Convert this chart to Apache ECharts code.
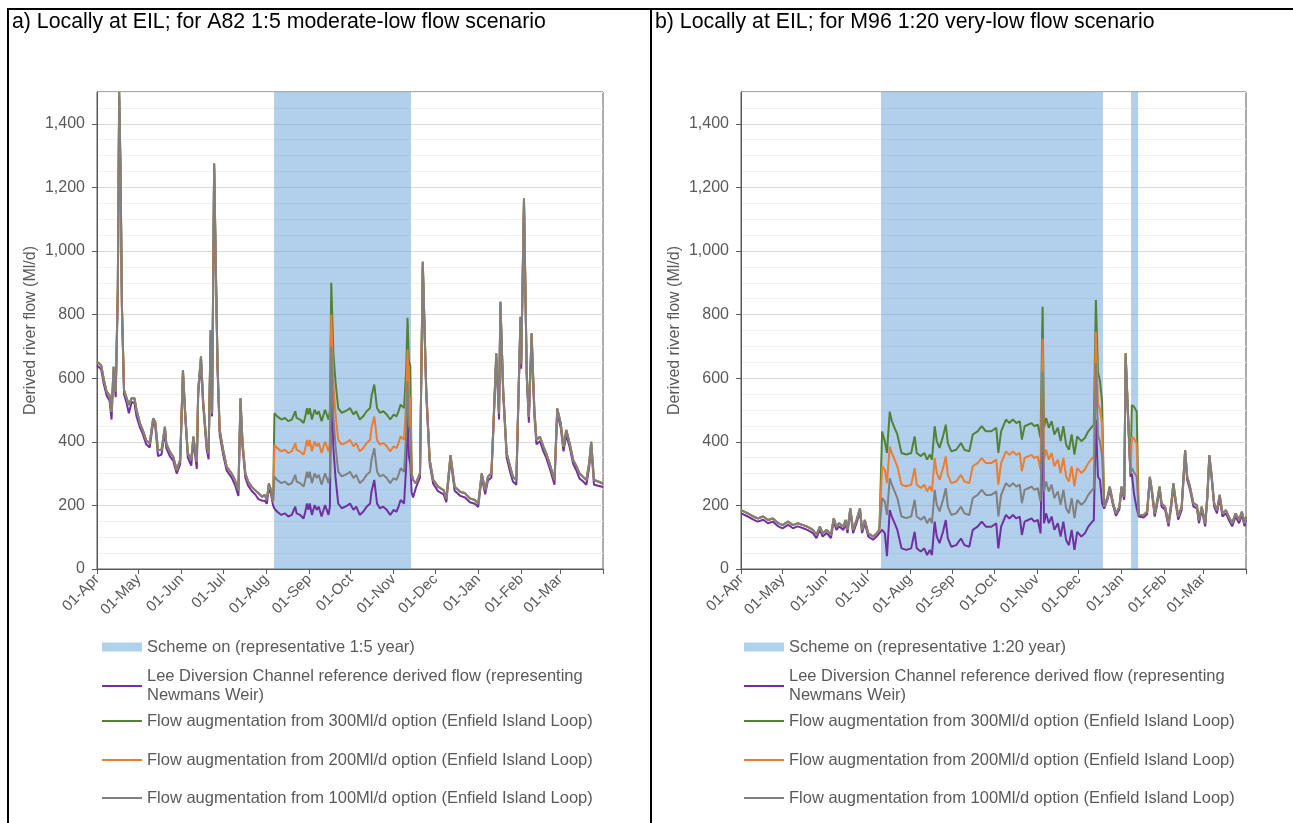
<!DOCTYPE html>
<html><head><meta charset="utf-8">
<script src="https://cdn.jsdelivr.net/npm/echarts@6/dist/echarts.min.js"></script>
<style>html,body{margin:0;padding:0;background:#fff}#c{width:1293px;height:823px}</style>
</head><body><div id="c"></div>
<script>
// ---------- axis labels ----------
const monthStarts = [0,30,61,91,122,153,183,214,244,275,306,334,365];
const monthLabels = ['01-Apr','01-May','01-Jun','01-Jul','01-Aug','01-Sep','01-Oct','01-Nov','01-Dec','01-Jan','01-Feb','01-Mar',''];
const yTickValues = [0,200,400,600,800,1000,1200,1400];

// ---------- scheme-on periods (day of water year) ----------
const schemeA = [[127.7,226.5]];
const schemeB = [[101.2,261.6],[281.9,287]];

// ---------- Panel a : A82 1:5 ----------
const aPreDays = [0,3,5,7,9,10.5,12,13.5,15,16,17,18,19.5,21,23,25,27,28.5,31,33,35.5,38,40.5,42,44,46.5,49,50,52.5,55,57.5,60,62,63.5,65.5,68,69.5,72,73,75,76.5,79,80.5,82,83,84.5,86,87,88.5,91,93.5,97,99.5,102,103.5,105,107,109,111.5,114,116.5,119,121,122.5,124,125.5,127];
const aPreRef = [640,628,580,545,530,470,620,540,860,1480,1230,810,550,528,490,525,522,480,445,425,392,382,460,450,355,360,432,380,355,340,300,330,610,488,350,325,402,315,548,650,518,380,345,735,480,1260,860,620,422,360,310,288,265,230,520,380,288,262,246,235,220,215,215,205,255,235,200];
const aPreOpt = [652,641,594,557,547,495,636,557,877,1500,1250,825,563,542,516,537,537,500,458,437,405,395,474,463,374,374,447,395,369,353,311,343,626,500,364,343,416,337,563,668,532,395,364,751,490,1275,877,636,437,374,322,301,280,248,537,395,301,275,259,248,238,227,233,217,269,248,212];

const aBandDays = [128,130,133,135.5,138,140.5,143,144,146.5,149,150,151.5,152.5,153.5,155,157,158.5,160,162,164.5,167,168,169,170.5,172,174,176.5,179,181,182.5,185,187,189.5,192,194.5,197,198,200,202,204,206.5,209,211.5,214,216,217.5,219,221.5,223,224,225,226];
const aBandRef = [190,180,170,175,165,170,196,175,170,159,175,206,186,206,170,201,186,196,165,201,170,196,600,380,290,206,191,196,201,206,186,196,170,180,196,206,243,280,206,191,196,186,170,186,180,196,217,206,322,490,353,330];
const aBand100 = [290,280,270,275,265,270,296,275,270,259,275,306,286,306,270,301,286,296,265,301,270,296,700,480,390,306,291,296,301,306,286,296,270,280,296,306,343,380,306,291,296,286,270,286,280,296,317,306,422,590,453,430];
const aBand200 = [390,380,370,375,365,370,396,375,370,359,375,406,386,406,370,401,386,396,365,401,370,396,800,580,490,406,391,396,401,406,386,396,370,380,396,406,443,480,406,391,396,386,370,386,380,396,417,406,522,690,553,530];
const aBand300 = [490,480,470,475,465,470,496,475,470,459,475,506,486,506,470,501,486,496,465,501,470,496,900,680,590,506,491,496,501,506,486,496,470,480,496,506,543,580,506,491,496,486,470,486,480,496,517,506,622,790,653,640];

const aPostDays = [227,228,230,233,235,237.5,240,242.5,246,250,252,255,258,262,265.5,269,272.5,275,277.5,280,282,284.5,286,288,290,291,293,295.5,298,300,302.5,304,305.5,306,308,310,311.5,313.5,315.5,317,319.5,322,324,326.5,330,332,334.5,336.5,338.5,341,343.5,346,348,350.5,353,355,356.5,358.5,361.5,365];
const aPostRef = [240,225,255,288,950,548,330,268,245,235,210,345,246,230,225,210,205,195,288,235,278,288,445,665,470,825,550,350,305,275,265,530,780,630,1150,600,460,725,480,392,402,370,350,318,265,490,445,370,422,382,330,308,285,276,265,318,385,265,262,258];
const aPostOpt = [300,280,269,301,966,563,343,280,259,248,222,358,259,243,238,222,217,206,301,248,290,301,458,678,490,840,563,364,322,290,280,542,793,647,1165,615,479,741,500,406,416,385,364,332,280,505,458,385,437,395,343,322,301,290,280,332,400,280,275,269];

// ---------- Panel b : M96 1:20 ----------
const bPreDays = [0,5,9,12,16,19.5,23,27,30,34,37.5,41,45,48,52,54.5,57,59,62,65,67,69,71,74,75.5,77,79,81,83.5,86,87.5,89.5,92,95.5,98,100];
const bPreRef = [175,165,155,149,155,144,149,134,128,139,128,134,128,123,113,97,123,102,113,97,149,123,134,123,144,113,181,113,144,181,113,144,102,92,102,113];
const bPreOpt = [185,175,165,159,165,154,159,144,138,149,138,144,138,133,123,107,133,112,123,107,159,133,144,133,154,123,191,123,154,191,123,154,112,102,112,123];

const bBand1Days = [102,104,105.5,107.5,109,111,113,116,119.5,123,125.5,127,130,132.5,134.5,136.5,138,140,141.5,143.5,146,148,149.5,152,155.5,159,161.5,165,167.5,171,174,177,181,182,184.5,186,188,191.5,194,196.5,199,201.5,203,205,207.5,210,212,214.5,216.5,218,219,220.5,222.5,224.5,226.5,229,231,233,235,237,239,241,243,246,248.5,251,253,255,256.5,258,259.5,261];
const bBand1Ref = [123,112,40,185,165,144,123,65,60,65,117,65,55,65,44,60,44,149,102,81,117,154,96,70,75,96,75,70,123,133,149,133,133,128,144,65,133,170,159,170,159,165,107,149,154,159,149,154,112,520,144,175,144,165,123,144,102,149,91,75,123,60,117,102,112,133,144,154,470,290,280,206];
const bBand1_100 = [223,212,170,285,265,244,223,165,160,165,217,165,155,165,144,160,144,249,202,181,217,254,196,170,175,196,175,170,223,233,249,233,233,228,244,165,233,270,259,270,259,265,207,249,254,259,249,254,212,620,244,275,244,265,223,244,202,249,191,175,223,160,217,202,212,233,244,254,647,420,400,353];
const bBand1_200 = [323,312,270,385,365,344,323,265,260,265,317,265,255,265,244,260,244,349,302,281,317,354,296,270,275,296,275,270,323,333,349,333,333,328,344,265,333,370,359,370,359,365,307,349,354,359,349,354,312,725,344,375,344,365,323,344,302,349,291,275,323,260,317,302,312,333,344,354,746,520,500,458];
const bBand1_300 = [432,400,365,495,465,444,423,365,360,365,417,365,355,365,344,360,344,449,402,381,417,454,396,370,375,396,375,370,423,433,449,433,433,428,444,365,433,470,459,470,459,465,407,449,454,459,449,454,412,825,444,475,444,465,423,444,402,449,391,375,423,360,417,402,412,433,444,454,846,620,590,525];

const bMidDays = [262.5,265,266.5,269,271,273.5,275,277,278,280,281.5];
const bMidRef = [190,220,250,198,167,188,250,218,665,445,290];
const bMidOpt = [196,227,259,206,175,196,259,227,678,458,301];

const bBand2Days = [282.5,284,286];
const bBand2Ref = [300,238,190];
const bBand2_100 = [317,305,290];
const bBand2_200 = [416,410,395];
const bBand2_300 = [516,510,495];

const bPostDays = [287.5,288.5,291,293.5,295.5,297,299,300.5,302.5,304,306.5,309,311,312.5,314.5,316,318.5,321,322.5,324.5,327,329.5,331,333,335.5,337,338.5,340,342,344,346,348,350.5,352.5,355,357.5,360,362,364,365];
const bPostRef = [165,168,162,172,280,238,165,196,250,196,186,134,196,259,196,155,186,362,280,249,196,191,144,186,134,217,346,291,196,175,223,165,175,155,134,165,144,170,134,155];
const bPostOpt = [170,175,170,180,290,248,175,206,259,206,196,144,206,269,206,165,196,374,290,259,206,201,154,196,144,227,358,301,206,185,233,175,185,165,144,175,154,180,144,165];

// ---------- assemble ----------
const daysA = [...aPreDays, ...aBandDays, ...aPostDays];
const refA = [...aPreRef, ...aBandRef, ...aPostRef];
const opt100A = [...aPreOpt, ...aBand100, ...aPostOpt];
const opt200A = [...aPreOpt, ...aBand200, ...aPostOpt];
const opt300A = [...aPreOpt, ...aBand300, ...aPostOpt];

const daysB = [...bPreDays, ...bBand1Days, ...bMidDays, ...bBand2Days, ...bPostDays];
const refB = [...bPreRef, ...bBand1Ref, ...bMidRef, ...bBand2Ref, ...bPostRef];
const opt100B = [...bPreOpt, ...bBand1_100, ...bMidOpt, ...bBand2_100, ...bPostOpt];
const opt200B = [...bPreOpt, ...bBand1_200, ...bMidOpt, ...bBand2_200, ...bPostOpt];
const opt300B = [...bPreOpt, ...bBand1_300, ...bMidOpt, ...bBand2_300, ...bPostOpt];

// ---------- names ----------
const titleA = 'a) Locally at EIL; for A82 1:5 moderate-low flow scenario';
const titleB = 'b) Locally at EIL; for M96 1:20 very-low flow scenario';
const nameSchemeA = 'Scheme on (representative 1:5 year)';
const nameSchemeB = 'Scheme on (representative 1:20 year)';
const nameRef = 'Lee Diversion Channel reference derived flow (representing Newmans Weir)';
const name300 = 'Flow augmentation from 300Ml/d option (Enfield Island Loop)';
const name200 = 'Flow augmentation from 200Ml/d option (Enfield Island Loop)';
const name100 = 'Flow augmentation from 100Ml/d option (Enfield Island Loop)';

const FONT = "'Liberation Sans', Arial, sans-serif";
const GREY = '#595959';
const C_REF = '#7030A0', C_300 = '#548235', C_200 = '#ED7D31', C_100 = '#808080';
const C_BAND = '#AED2EC';

function zip(d, v) { return d.map((x, i) => [x, v[i]]); }

function xAxisCfg(i) {
  return {
    type: 'value', gridIndex: i, min: 0, max: 365,
    axisLine: { show: true, lineStyle: { color: GREY, width: 1 } },
    axisTick: { show: true, customValues: monthStarts, length: 5, lineStyle: { color: GREY } },
    axisLabel: {
      customValues: monthStarts.slice(0, 12),
      formatter: v => monthLabels[monthStarts.indexOf(v)],
      rotate: 45, fontSize: 15, color: GREY, fontFamily: FONT, margin: 8
    },
    splitLine: { show: false }
  };
}
function yAxisCfg(i) {
  return {
    type: 'value', gridIndex: i, min: 0, max: 1500, interval: 50, position: 'left',
    name: 'Derived river flow (Ml/d)', nameLocation: 'middle', nameGap: 58,
    nameTextStyle: { fontSize: 16, color: GREY, fontFamily: FONT },
    axisLine: { show: true, lineStyle: { color: GREY, width: 1 } },
    axisTick: { show: true, customValues: yTickValues, length: 5, lineStyle: { color: GREY } },
    axisLabel: {
      customValues: yTickValues,
      formatter: v => v.toLocaleString('en-US'),
      fontSize: 16, color: GREY, fontFamily: FONT, margin: 12
    },
    splitLine: { show: false },
    z: 3
  };
}
// invisible axis that only draws the 50 Ml/d gridlines (major every 200)
function gridAxisCfg(i) {
  return {
    type: 'value', gridIndex: i, min: 0, max: 1500, interval: 50, position: 'right',
    axisLine: { show: false }, axisTick: { show: false }, axisLabel: { show: false },
    splitLine: { show: true, lineStyle: { color: ['#d9d9d9', '#f0f0f0', '#f0f0f0', '#f0f0f0'], width: 1 } }
  };
}
function line(name, color, days, vals, gi) {
  return {
    type: 'line', name, xAxisIndex: gi, yAxisIndex: gi, data: zip(days, vals),
    symbol: 'none', showSymbol: false, color, lineStyle: { width: 2, color }, itemStyle: { color },
    animation: false, emphasis: { disabled: true }
  };
}
function bandSeries(name, periods, gi) {
  return {
    type: 'line', name, xAxisIndex: gi, yAxisIndex: gi, data: [], color: C_BAND,
    symbol: 'none', animation: false,
    markArea: {
      silent: true, itemStyle: { color: 'rgba(91,155,213,0.47)' }, label: { show: false },
      data: periods.map(p => [{ xAxis: p[0] }, { xAxis: p[1] }])
    }
  };
}
function legendCfg(name, color, left, top, iconH, opts) {
  opts = opts || {};
  const ts = Object.assign({ fontSize: 16.5, color: GREY, fontFamily: FONT, lineHeight: 19 }, opts.text || {});
  const cfg = {
    data: [{ name, icon: 'rect', itemStyle: { color, borderWidth: 0 } }],
    left, top, orient: 'horizontal', itemWidth: 40, itemHeight: iconH,
    padding: 0, itemGap: 0, selectedMode: false, textStyle: ts
  };
  if (opts.formatter) cfg.formatter = opts.formatter;
  return cfg;
}
const wrapRef = n => n.replace('(representing ', '(representing\n');

function legendsFor(left, schemeName) {
  return [
    legendCfg(schemeName, C_BAND, left, 637.5, 9),
    legendCfg(nameRef, C_REF, left, 657.5, 2, { formatter: wrapRef, text: { padding: [19, 0, 0, 0] } }),
    legendCfg(name300, C_300, left, 711.5, 2),
    legendCfg(name200, C_200, left, 750.5, 2),
    legendCfg(name100, C_100, left, 788.5, 2)
  ];
}

const chart = echarts.init(document.getElementById('c'), null, { renderer: 'canvas' });
chart.setOption({
  animation: false,
  backgroundColor: '#fff',
  title: [
    { text: titleA, left: 12, top: 12, padding: 0, textStyle: { fontSize: 21.3, fontWeight: 'normal', color: '#000', fontFamily: FONT } },
    { text: titleB, left: 655, top: 12, padding: 0, textStyle: { fontSize: 21.3, fontWeight: 'normal', color: '#000', fontFamily: FONT } }
  ],
  grid: [
    { left: 97, top: 92, width: 506, height: 477, show: true, borderColor: GREY, borderWidth: 1, backgroundColor: 'transparent' },
    { left: 741, top: 92, width: 505, height: 477, show: true, borderColor: GREY, borderWidth: 1, backgroundColor: 'transparent' }
  ],
  xAxis: [xAxisCfg(0), xAxisCfg(1)],
  yAxis: [yAxisCfg(0), yAxisCfg(1), gridAxisCfg(0), gridAxisCfg(1)],
  legend: [...legendsFor(102, nameSchemeA), ...legendsFor(744, nameSchemeB)],
  graphic: [
    { type: 'line', shape: { x1: 8, y1: 9, x2: 1293, y2: 9 }, style: { stroke: '#000', lineWidth: 2 } },
    { type: 'line', shape: { x1: 8, y1: 8, x2: 8, y2: 823 }, style: { stroke: '#000', lineWidth: 2 } },
    { type: 'line', shape: { x1: 651, y1: 8, x2: 651, y2: 823 }, style: { stroke: '#000', lineWidth: 2 } }
  ],
  series: [
    bandSeries(nameSchemeA, schemeA, 0),
    line(nameRef, C_REF, daysA, refA, 0),
    line(name300, C_300, daysA, opt300A, 0),
    line(name200, C_200, daysA, opt200A, 0),
    line(name100, C_100, daysA, opt100A, 0),
    bandSeries(nameSchemeB, schemeB, 1),
    line(nameRef, C_REF, daysB, refB, 1),
    line(name300, C_300, daysB, opt300B, 1),
    line(name200, C_200, daysB, opt200B, 1),
    line(name100, C_100, daysB, opt100B, 1)
  ]
});
</script>
</body></html>
